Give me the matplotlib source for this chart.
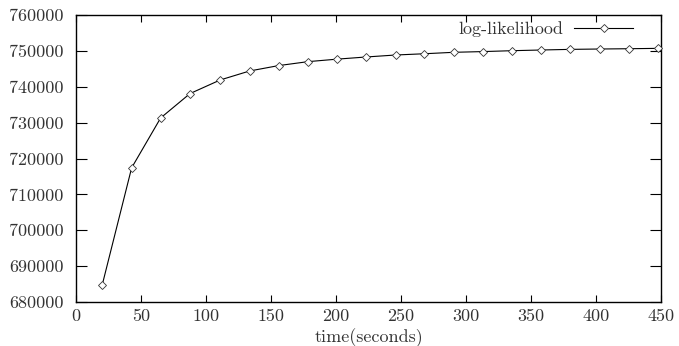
import matplotlib
matplotlib.use("Agg")
import matplotlib.pyplot as plt

plt.rcParams['font.family'] = ['cmr10', 'DejaVu Serif']
plt.rcParams['axes.formatter.use_mathtext'] = True
plt.rcParams['mathtext.fontset'] = 'cm'

time_s = [20.2, 42.8, 65.1, 87.7, 111.0, 133.6, 155.9, 178.5, 201.0, 223.3,
          245.9, 268.0, 290.5, 312.8, 335.4, 357.4, 380.3, 402.8, 425.1, 447.4]
loglik = [684800, 717400, 731300, 738100, 741900, 744400, 745900, 747000, 747700, 748300,
          748850, 749200, 749600, 749800, 750050, 750240, 750420, 750520, 750600, 750700]
xticks = [0, 50, 100, 150, 200, 250, 300, 350, 400, 450]
yticks = [680000, 690000, 700000, 710000, 720000, 730000, 740000, 750000, 760000]
series_label = "log-likelihood"
xlabel = "time(seconds)"

FS = 13

fig = plt.figure(figsize=(6.79, 3.46), dpi=100)
ax = fig.add_axes([76/679, 1 - 302/346, 585/679, 287/346])

ax.plot(time_s, loglik, color='black', lw=0.8, marker='D', markersize=3.8,
        markerfacecolor='white', markeredgecolor='#333333', markeredgewidth=0.6,
        label=series_label, clip_on=False, zorder=3)

ax.set_xlim(0, 450)
ax.set_ylim(680000, 760000)
ax.set_xticks(xticks)
ax.set_yticks(yticks)
ax.set_xticklabels([str(v) for v in xticks])
ax.set_yticklabels([str(v) for v in yticks])

ax.tick_params(axis='x', direction='in', length=5, width=0.8, top=True, bottom=True,
               labelsize=FS, pad=5, colors='black', labelcolor='#333333')
ax.tick_params(axis='y', direction='in', length=8, width=0.8, left=True, right=True,
               labelsize=FS, pad=9, colors='black', labelcolor='#333333')
for s in ax.spines.values():
    s.set_linewidth(1.0)

ax.set_xlabel(xlabel, fontsize=FS, color='#333333', labelpad=3)

leg = ax.legend(loc='upper right', frameon=False, markerfirst=False, fontsize=FS,
                handlelength=3.3, handletextpad=0.6, borderaxespad=0.0)
leg.set_bbox_to_anchor((638/679 + 0.004, 1 - 14/346), transform=fig.transFigure)
for t in leg.get_texts():
    t.set_color('#333333')

fig.savefig("out.png", dpi=100)
